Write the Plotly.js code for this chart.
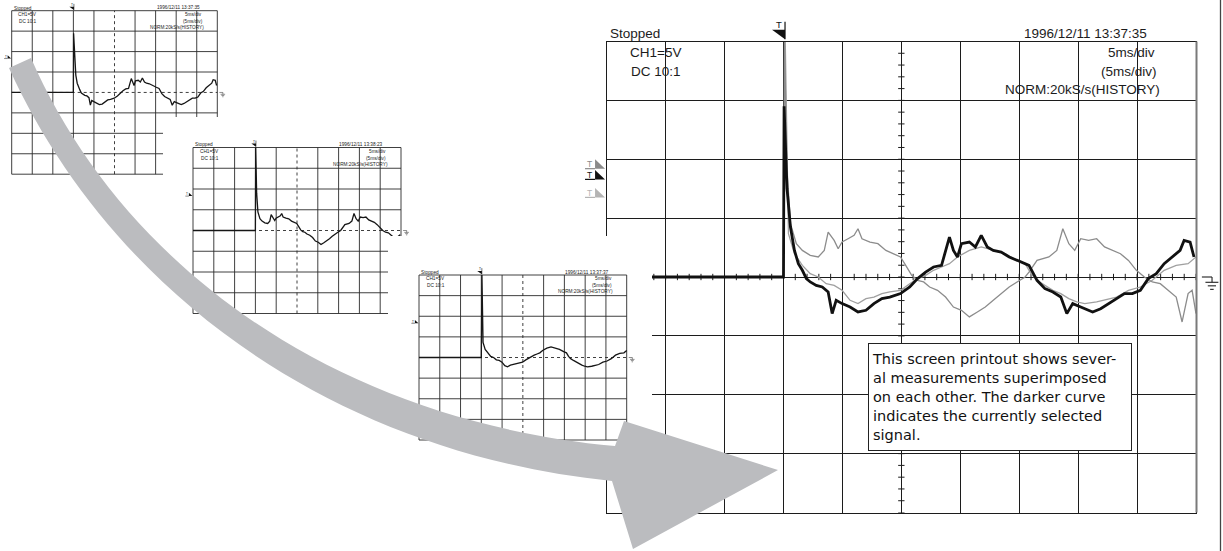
<!DOCTYPE html>
<html><head><meta charset="utf-8">
<script src="https://cdn.plot.ly/plotly-3.0.1.min.js"></script>
<style>html,body{margin:0;padding:0;background:#fff;}#chart{width:1223px;height:551px;}</style>
</head><body><div id="chart"></div>
<script>
// ---------------- data (time in ms, voltage in V; 5 ms/div, 5 V/div) ----------------
const timeBlack = [0,15.0,15.05,15.3,15.59,15.93,16.26,16.60,16.94,17.27,17.78,18.29,18.79,19.13,19.47,19.97,20.65,21.32,22.0,22.67,23.35,24.02,24.93,25.71,26.38,27.06,27.73,28.41,29.08,29.42,29.76,30.10,30.77,31.28,31.78,32.29,32.80,33.47,34.15,35.16,35.83,36.51,37.18,37.86,38.53,39.04,39.54,40.22,41.23,41.91,42.58,43.26,43.93,44.60,45.28,45.95,46.63,47.30,47.98,48.65,48.99,49.50,49.83];
const voltBlack = [0,0,14.5,7.5,4.24,2.26,1.13,0.57,-0.14,-0.42,-0.71,-0.85,-1.27,-3.11,-1.98,-2.26,-2.55,-2.97,-2.83,-2.26,-1.84,-1.70,-1.41,-0.85,-0.14,0.42,0.85,0.99,3.39,2.26,1.70,2.83,2.97,2.55,3.54,2.55,2.26,2.12,1.70,1.27,0.99,-0.28,-0.99,-1.27,-1.70,-3.11,-2.26,-2.55,-2.97,-2.69,-2.26,-1.84,-1.41,-1.41,-1.13,-0.14,0.28,1.13,1.70,2.26,3.11,2.97,1.70];
const timeGrayA = [0,15.0,15.08,15.3,15.6,16.09,16.60,17.27,17.95,18.46,18.79,19.30,19.64,19.97,20.48,20.99,21.32,21.66,22.34,23.01,23.69,24.36,24.93,25.37,25.88,26.38,26.89,27.40,28.07,28.75,29.42,30.10,30.77,31.45,32.12,32.80,33.47,34.15,34.82,35.50,35.83,36.51,37.52,38.19,38.70,39.21,39.71,40.22,40.89,41.57,42.24,42.92,43.59,44.27,44.94,45.62,46.29,46.97,47.64,48.32,48.82,49.33,49.67,50.0];
const voltGrayA = [0,0,20,9,4.5,2.83,2.26,1.84,1.70,2.26,3.82,3.11,2.40,2.97,3.25,3.54,4.10,3.25,2.97,2.83,2.26,1.98,1.70,0.99,0.14,-0.28,-0.42,-0.85,-1.13,-1.70,-2.55,-2.83,-3.39,-2.97,-2.55,-1.98,-1.41,-0.85,-0.42,0,0.42,1.41,1.70,2.26,4.10,2.83,2.26,3.25,3.11,3.25,2.55,2.26,1.98,1.41,0.57,0,-0.42,-0.57,-1.13,-1.70,-3.82,-1.41,-1.13,-3.11];
const timeGrayB = [0,15.0,15.15,15.42,15.93,16.60,17.27,17.95,18.62,19.30,19.97,20.65,21.32,22.0,22.67,23.35,24.02,24.93,25.71,26.38,27.06,27.73,28.41,29.08,29.76,30.77,31.78,32.80,33.81,34.82,35.50,36.0,36.51,37.18,37.86,38.53,39.21,39.88,40.56,41.57,42.58,43.26,44.27,45.28,46.29,47.30,48.32,49.33,50.0];
const voltGrayB = [0,0,20,3.68,1.98,0.99,0.28,0,-0.57,-0.71,-1.13,-1.98,-2.26,-1.84,-1.70,-1.41,-1.27,-1.13,-0.57,-0.14,0.14,0.57,0.85,1.13,1.70,2.26,2.55,2.26,1.98,1.41,1.13,0.28,-0.28,-0.71,-1.13,-1.41,-1.84,-2.12,-2.26,-2.12,-1.84,-1.70,-1.13,-0.85,-0.28,0.57,0.99,1.13,1.70];

const statusLabel = 'Stopped';
const channelLabels = ['CH1=5V', 'DC 10:1'];
const timebaseLabels = ['5ms/div', '(5ms/div)', 'NORM:20kS/s(HISTORY)'];
const timestamps = ['1996/12/11 13:37:35', '1996/12/11 13:38:23', '1996/12/11 13:37:37'];
const noteText = 'This screen printout shows sever-<br>al measurements superimposed<br>on each other. The darker curve<br>indicates the currently selected<br>signal.';

// ---------------- geometry ----------------
const W = 1223, H = 551;
const BIG = {gx0:606.7, gx1:1196, gy0:41.5, gy1:512.5};
const SMALL = [
  {id:'2', gx0:11.7, gx1:217.3, gy0:10.7, gy1:174.2, bx0:0,   bx1:228, by0:0,   by1:188, series:0, stamp:timestamps[0]},
  {id:'3', gx0:193,  gx1:401,   gy0:147.5,gy1:313.5, bx0:163, bx1:416, by0:117, by1:330, series:1, stamp:timestamps[1]},
  {id:'4', gx0:419,  gx1:626.7, gy0:275,  gy1:440,   bx0:388, bx1:652, by0:236, by1:462, series:2, stamp:timestamps[2]}
];
const seriesT = [timeBlack, timeGrayA, timeGrayB];
const seriesV = [voltBlack, voltGrayA, voltGrayB];

const pX = p => p / W, pY = p => 1 - p / H;
const bigX = t => BIG.gx0 + t / 50 * (BIG.gx1 - BIG.gx0);
const bigY = v => BIG.gy0 + (20 - v) / 40 * (BIG.gy1 - BIG.gy0);

const FONT = 'Liberation Sans, Arial, Helvetica, sans-serif';
const INK = '#1c1c1c';
const traces = [], shapes = [], annotations = [];
const layout = {
  width: W, height: H, margin: {l:0, r:0, t:0, b:0},
  paper_bgcolor: '#ffffff', plot_bgcolor: '#ffffff', showlegend: false,
  xaxis: {domain:[pX(BIG.gx0), pX(BIG.gx1)], range:[0,50], tick0:0, dtick:5, showgrid:true, gridcolor:INK, gridwidth:1,
          zeroline:false, showline:true, mirror:true, linecolor:INK, linewidth:1, ticks:'', showticklabels:false, fixedrange:true},
  yaxis: {domain:[pY(BIG.gy1), pY(BIG.gy0)], range:[-20,20], tick0:0, dtick:5, showgrid:true, gridcolor:INK, gridwidth:1,
          zeroline:false, showline:true, mirror:true, linecolor:INK, linewidth:1, ticks:'', showticklabels:false, fixedrange:true}
};

const bigRef = {xref:'paper', yref:'paper', X:t => pX(bigX(t)), Y:v => pY(bigY(v)), k:1, layer:'above'};
function smallRef(s){
  return {xref:'x'+s.id, yref:'y'+s.id, X:t => t, Y:v => v, k:(s.gx1 - s.gx0) / (BIG.gx1 - BIG.gx0), layer:'below'};
}
function line(ref, t0, v0, t1, v1, color, width, dash){
  shapes.push({type:'line', xref:ref.xref, yref:ref.yref, x0:ref.X(t0), y0:ref.Y(v0), x1:ref.X(t1), y1:ref.Y(v1),
    line:{color:color, width:width, dash:dash || 'solid'}, layer:ref.layer});
}
function poly(ref, pts, fill){
  const d = pts.map((p, i) => (i ? 'L' : 'M') + ref.X(p[0]) + ',' + ref.Y(p[1])).join(' ') + ' Z';
  shapes.push({type:'path', xref:ref.xref, yref:ref.yref, path:d, fillcolor:fill, line:{width:0}, layer:ref.layer});
}
function text(ref, t, v, str, size, xa, color, fam){
  annotations.push({x:ref.X(t), y:ref.Y(v), xref:ref.xref, yref:ref.yref, text:str, showarrow:false,
    xanchor:xa, yanchor:'middle', borderpad:0, font:{family:fam || FONT, size:size, color:color || INK}});
}
function scopeTexts(ref, stamp){
  const fs = 13.5 * ref.k;
  text(ref, 0.2, 20.65, statusLabel, fs, 'left');
  text(ref, 45.95, 20.7, stamp, fs, 'right');
  text(ref, 6.4, 19.1, channelLabels[0], fs, 'right');
  text(ref, 6.4, 17.45, channelLabels[1], fs, 'right');
  text(ref, 46.6, 19.05, timebaseLabels[0], fs, 'right');
  text(ref, 46.75, 17.45, timebaseLabels[1], fs, 'right');
  text(ref, 47.05, 15.9, timebaseLabels[2], fs, 'right');
}
function triggerMark(ref){
  poly(ref, [[14.03,20.99],[15.13,20.99],[15.13,20.2]], '#111');
  line(ref, 15.13, 20.2, 15.13, 21.67, '#111', Math.max(0.6, 1.2*ref.k));
  text(ref, 14.58, 21.42, 'T', 9.5*ref.k, 'center', '#111');
}
function levelMark(ref, dv, color){
  poly(ref, [[-0.99,9.08+dv],[-0.99,8.29+dv],[-0.14,8.29+dv]], color);
  line(ref, -1.84, 8.29+dv, -0.99, 8.29+dv, color, Math.max(0.5, 1.2*ref.k));
  text(ref, -1.42, 8.7+dv, 'T', 8.5*ref.k, 'center', color);
}
function groundMark(ref){
  const w = Math.max(0.5, 1.1*ref.k);
  line(ref, 50.5, 0, 51.36, 0, '#222', w);
  line(ref, 51.36, 0, 51.36, -0.45, '#222', w);
  line(ref, 50.8, -0.45, 51.9, -0.45, '#222', w);
  line(ref, 51.0, -0.75, 51.7, -0.75, '#222', w);
  line(ref, 51.2, -1.05, 51.5, -1.05, '#222', w);
}

// ---------------- big scope ----------------
traces.push({x:timeGrayB, y:voltGrayB, xaxis:'x', yaxis:'y', mode:'lines', line:{color:'#a0a0a0', width:1.3}, hoverinfo:'skip'});
traces.push({x:timeGrayA, y:voltGrayA, xaxis:'x', yaxis:'y', mode:'lines', line:{color:'#8c8c8c', width:1.3}, hoverinfo:'skip'});
traces.push({x:timeBlack, y:voltBlack, xaxis:'x', yaxis:'y', mode:'lines', line:{color:'#111111', width:2.8}, hoverinfo:'skip'});
const axRef = {xref:'x', yref:'y', X:t => t, Y:v => v, layer:'below'};
for (let t = 0; t <= 50; t += 1) line(axRef, t, -0.27, t, 0.27, INK, 1);
for (let v = -20; v <= 20; v += 1) line(axRef, 24.73, v, 25.27, v, INK, 1);
scopeTexts(bigRef, timestamps[0]);
triggerMark(bigRef);
levelMark(bigRef, 0.91, '#8a8a8a');
levelMark(bigRef, 0, '#111');
levelMark(bigRef, -1.53, '#b4b4b4');
groundMark(bigRef);
shapes.push({type:'line', xref:'paper', yref:'paper', x0:pX(1220.5), x1:pX(1220.5), y0:0, y1:1, line:{color:'#444', width:1.3}, layer:'above'});
shapes.push({type:'line', xref:'paper', yref:'paper', x0:pX(1196.5), x1:pX(1196.5), y0:pY(BIG.gy0), y1:pY(BIG.gy1), line:{color:'#7a7a7a', width:2}, layer:'above'});

// ---------------- small scopes ----------------
SMALL.forEach(s => {
  const mppX = 50 / (s.gx1 - s.gx0), mppY = 40 / (s.gy1 - s.gy0);
  layout['xaxis'+s.id] = {domain:[pX(s.bx0), pX(s.bx1)], range:[-(s.gx0 - s.bx0)*mppX, 50 + (s.bx1 - s.gx1)*mppX],
    anchor:'y'+s.id, visible:false, fixedrange:true};
  layout['yaxis'+s.id] = {domain:[pY(s.by1), pY(s.by0)], range:[-20 - (s.by1 - s.gy1)*mppY, 20 + (s.gy0 - s.by0)*mppY],
    anchor:'x'+s.id, visible:false, fixedrange:true};
  const ref = smallRef(s);
  for (let t = 0; t <= 50; t += 5) line(ref, t, -20, t, 20, '#2a2a2a', 0.9, t === 25 ? 'dot' : 'solid');
  for (let v = -20; v <= 20; v += 5) line(ref, 0, v, 50, v, '#2a2a2a', 0.9, v === 0 ? 'dot' : 'solid');
  traces.push({x:seriesT[s.series], y:seriesV[s.series], xaxis:'x'+s.id, yaxis:'y'+s.id, mode:'lines',
    line:{color:'#161616', width:1.3}, hoverinfo:'skip'});
  scopeTexts(ref, s.stamp);
  triggerMark(ref);
  levelMark(ref, 0, '#111');
  groundMark(ref);
});

// ---------------- note box ----------------
annotations.push({x:pX(1000), y:pY(397), xref:'paper', yref:'paper', text:noteText, showarrow:false, align:'left',
  xanchor:'center', yanchor:'middle', width:256, height:100, bgcolor:'#ffffff', bordercolor:'#222', borderwidth:1, borderpad:3,
  font:{family:'DejaVu Sans, Verdana, sans-serif', size:14.5, color:'#111'}});

// ---------------- curved arrow (decoration) ----------------
const P = (x, y) => pX(x) + ',' + pY(y);
shapes.push({type:'path', xref:'paper', yref:'paper', layer:'above', fillcolor:'#bbbcbf', line:{width:0},
  path:'M' + P(9,68) + ' C' + P(110,290) + ' ' + P(330,452) + ' ' + P(612,481) +
       ' L' + P(633,549) + ' L' + P(778,470) + ' L' + P(624,421) + ' L' + P(615,446) +
       ' C' + P(330,420) + ' ' + P(120,262) + ' ' + P(31,58) + ' Z'});

layout.shapes = shapes;
layout.annotations = annotations;
Plotly.newPlot('chart', traces, layout, {staticPlot:true, displayModeBar:false});
</script></body></html>
